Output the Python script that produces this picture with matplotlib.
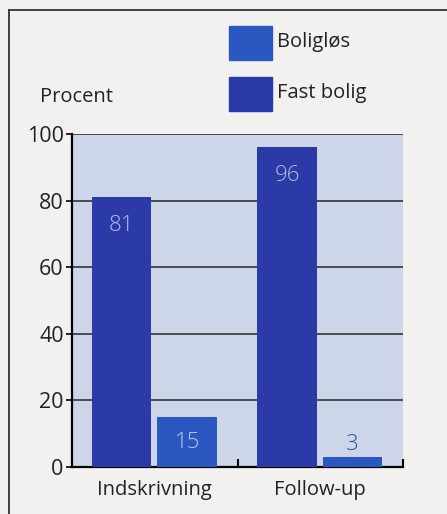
import numpy as np
import matplotlib.pyplot as plt
from matplotlib.lines import Line2D
from matplotlib.patches import Rectangle

plt.rcParams['font.family'] = ['Open Sans', 'DejaVu Sans']

# data
categories = ['Indskrivning', 'Follow-up']
fast_bolig = [81, 96]
boligloes = [15, 3]
legend_labels = ['Boligløs', 'Fast bolig']
yticks = [0, 20, 40, 60, 80, 100]

c_fast = '#2b3aa6'
c_los = '#2a58c0'
bg_fig = '#f3f1ef'
bg_ax = '#cdd6e8'
txt = '#222222'

fig = plt.figure(figsize=(4.47, 5.14), dpi=100, facecolor=bg_fig)
W, H = 447, 514
ax = fig.add_axes([72 / W, 1 - 467 / H, 331 / W, 333 / H])
ax.set_facecolor(bg_ax)

x = np.arange(len(categories))
w = 0.36
ax.bar(x - 0.2, fast_bolig, w, color=c_fast, zorder=3)
ax.bar(x + 0.196, boligloes, w, color=c_los, zorder=3)

ax.set_xlim(-0.5, 1.5)
ax.set_ylim(0, 100)

for yv in yticks[1:]:
    ax.axhline(yv, color='#333333', lw=1.2, zorder=2)

# value labels
for xi, v in zip(x, fast_bolig):
    ax.text(xi - 0.2, v - 10, str(v), ha='center', va='baseline', color='#b4bce6',
            fontsize=16, fontweight='light', zorder=4)
for xi, v in zip(x, boligloes):
    if v > 8:
        ax.text(xi + 0.196, v - 9.3, str(v), ha='center', va='baseline', color='#b9c8ec',
                fontsize=16, fontweight='light', zorder=4)
    else:
        ax.text(xi + 0.196, v + 2.1, str(v), ha='center', va='baseline', color='#2a4cb0',
                fontsize=16, fontweight='light', zorder=4)

for s in ['top', 'right']:
    ax.spines[s].set_visible(False)
ax.spines['left'].set_linewidth(1.6)
ax.spines['bottom'].set_linewidth(1.6)

ax.set_yticks(yticks)
ax.set_yticklabels([str(t) for t in yticks], fontsize=15.5, color=txt)
ax.tick_params(axis='y', direction='out', length=4, width=1.2, pad=2)
ax.set_xticks(x)
ax.set_xticklabels(categories, fontsize=14.5, color=txt)
ax.tick_params(axis='x', length=0, pad=9)
ax.set_xticks([0.5, 1.5], minor=True)
ax.tick_params(axis='x', which='minor', direction='in', length=6, width=1.5)

fig.text(40 / W, 1 - 97 / H, 'Procent', fontsize=14.5, color=txt, va='center')

# legend
for i, (lab, col) in enumerate(zip(legend_labels, [c_los, c_fast])):
    y0 = 26 + i * 51
    fig.patches.append(Rectangle((229 / W, 1 - (y0 + 34) / H), 43 / W, 34 / H,
                                 transform=fig.transFigure, color=col))
    fig.text(277 / W, 1 - (y0 + 16) / H, lab, fontsize=14.5, color=txt, va='center')

# border frame
fig.add_artist(Line2D([9 / W, 9 / W], [0, 1 - 10 / H], transform=fig.transFigure,
                      color='#333333', lw=1.3))
fig.add_artist(Line2D([9 / W, 1], [1 - 10 / H, 1 - 10 / H], transform=fig.transFigure,
                      color='#333333', lw=1.3))

fig.savefig('out.png', dpi=100, facecolor=bg_fig)
